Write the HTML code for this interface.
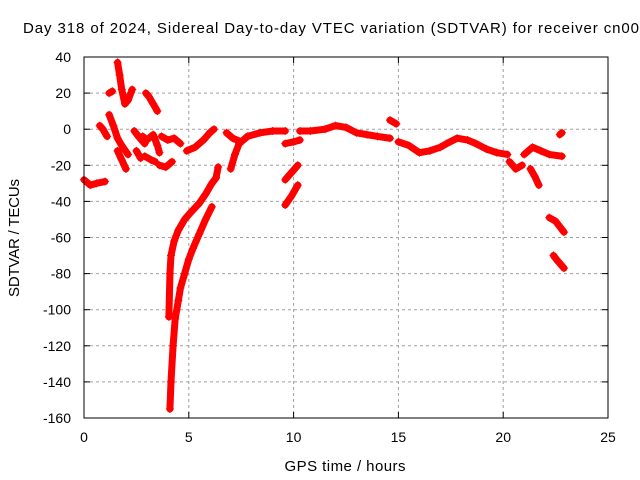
<!DOCTYPE html>
<html><head><meta charset="utf-8"><style>
body{margin:0;background:#fff;}
svg{display:block;font-family:"Liberation Sans",sans-serif;}
</style></head><body>
<svg id="chart" width="640" height="480">
<rect width="640" height="480" fill="#fff"/>
<text x="23" y="33" font-size="15" textLength="616" lengthAdjust="spacing">Day 318 of 2024, Sidereal Day-to-day VTEC variation (SDTVAR) for receiver cn00</text>
<text x="345" y="471" text-anchor="middle" font-size="15" textLength="121" lengthAdjust="spacing">GPS time / hours</text>
<text transform="translate(19,238) rotate(-90)" text-anchor="middle" font-size="15" textLength="118" lengthAdjust="spacing">SDTVAR / TECUs</text>
<g id="grid"></g><g id="marks"></g>
<rect x="84" y="57" width="524" height="361" fill="none" stroke="#000" stroke-width="1"/>
</svg>
<script>
const xTicks=[0,5,10,15,20,25];
const yTicks=[40,20,0,-20,-40,-60,-80,-100,-120,-140,-160];
// segments of [hour, value]
const segA=[[0,-28],[0.3,-31],[0.6,-30],[1.0,-29]];
const segB=[[0.75,2],[0.9,0],[1.1,-4]];
const segC=[[1.2,8],[1.4,2],[1.6,-5],[1.8,-9],[2.1,-14]];
const segC2=[[1.6,-12],[1.8,-17],[2.0,-22]];
const segD=[[1.6,37],[1.7,30],[1.8,22],[1.95,14],[2.1,16],[2.3,22]];
const segE=[[1.2,20],[1.35,21]];
const segF=[[2.95,20],[3.1,18],[3.3,14],[3.5,10]];
const segG=[[2.4,-1],[2.6,-4],[2.9,-8]];
const segH=[[2.5,-12],[2.7,-16]];
const segI=[[2.8,-4],[3.0,-6],[3.3,-3],[3.5,-9],[3.6,-13]];
const segJ=[[2.9,-15],[3.2,-17],[3.4,-18]];
const segK=[[3.6,-20],[3.9,-21],[4.2,-18]];
const segL=[[3.7,-4],[4.0,-6],[4.3,-5],[4.6,-8]];
const segM1=[[4.05,-104],[4.1,-80],[4.15,-70],[4.3,-62],[4.5,-56],[4.8,-50],[5.1,-46],[5.5,-41],[5.8,-36],[6.1,-30],[6.3,-27],[6.4,-21]];
const segM2=[[4.1,-155],[4.15,-140],[4.25,-120],[4.35,-105],[4.5,-95],[4.6,-88],[4.8,-80],[5.0,-72],[5.2,-66],[5.5,-58],[5.8,-50],[6.1,-43]];
const segN=[[4.9,-12],[5.3,-10],[5.7,-6],[6.0,-2],[6.2,0]];
const segO=[[7.0,-22],[7.2,-14],[7.4,-8],[7.8,-4],[8.4,-2],[9.0,-1],[9.6,-1]];
const segO2=[[6.8,-2],[7.1,-5],[7.5,-7]];
const segP=[[9.6,-42],[9.9,-37],[10.2,-31]];
const segP2=[[9.6,-28],[9.9,-24],[10.2,-20]];
const segQ=[[9.6,-8],[10.0,-7],[10.3,-6]];
const segR=[[10.3,-1],[10.8,-1],[11.5,0],[12.0,2],[12.5,1],[13.0,-2],[13.5,-3],[14.0,-4],[14.6,-5]];
const segS=[[14.6,5],[14.9,3]];
const segT=[[15.0,-7],[15.5,-9],[16.0,-13],[16.5,-12],[17.0,-10],[17.3,-8],[17.8,-5],[18.3,-6],[18.7,-8],[19.2,-11],[19.7,-13],[20.2,-14]];
const segU=[[20.3,-18],[20.6,-22],[20.9,-20]];
const segV=[[21.0,-14],[21.4,-10],[21.8,-12],[22.2,-14],[22.8,-15]];
const segW=[[21.3,-22],[21.5,-26],[21.7,-31]];
const segX=[[22.7,-3],[22.8,-2]];
const segY=[[22.2,-49],[22.5,-51],[22.9,-57]];
const segZ=[[22.4,-70],[22.6,-73],[22.9,-77]];
const segments=[segA,segB,segC,segC2,segD,segE,segF,segG,segH,segI,segJ,segK,segL,segM1,segM2,segN,segO,segO2,segP,segP2,segQ,segR,segS,segT,segU,segV,segW,segX,segY,segZ];

const NS="http://www.w3.org/2000/svg";
const X0=84,X1=608,Y0=57,Y1=418;
function xs(t){return X0+(t-0)/(25-0)*(X1-X0);}
function ys(v){return Y0+(40-v)/(40+160)*(Y1-Y0);}
const grid=document.getElementById('grid');
const marks=document.getElementById('marks');
function mk(tag,attrs,parent){const e=document.createElementNS(NS,tag);for(const k in attrs)e.setAttribute(k,attrs[k]);parent.appendChild(e);return e;}
xTicks.forEach(t=>{
  const x=xs(t);
  if(t>0&&t<25){const g=mk('line',{x1:x,x2:x,y1:Y0,y2:Y1,stroke:'#a0a0a0','stroke-dasharray':'3,3'},grid);
  
  }
  mk('line',{x1:x,x2:x,y1:Y1,y2:Y1-6,stroke:'#000'},grid);
  mk('line',{x1:x,x2:x,y1:Y0,y2:Y0+6,stroke:'#000'},grid);
  const l=mk('text',{x:x,y:Y1+24,'text-anchor':'middle','font-size':'14'},grid);l.textContent=t;
  
  
});
yTicks.forEach(v=>{
  const y=ys(v);
  if(v<40&&v>-160){const g=mk('line',{x1:X0,x2:X1,y1:y,y2:y,stroke:'#a0a0a0','stroke-dasharray':'3,3'},grid);
  
  }
  mk('line',{x1:X0,x2:X0+6,y1:y,y2:y,stroke:'#000'},grid);
  mk('line',{x1:X1,x2:X1-6,y1:y,y2:y,stroke:'#000'},grid);
  const l=mk('text',{x:X0-13,y:y+5,'text-anchor':'end','font-size':'14'},grid);l.textContent=v;
  
  
});
segments.forEach(seg=>{
  const p=mk('polyline',{points:seg.map(d=>xs(d[0])+','+ys(d[1])).join(' '),fill:'none',stroke:'#f00','stroke-width':'7','stroke-linejoin':'round','stroke-linecap':'round'},marks);
  
  
  seg.forEach(d=>{
    const x=xs(d[0]),y=ys(d[1]);
    const m=mk('path',{d:`M${x-4},${y}H${x+4}M${x},${y-4}V${y+4}`,stroke:'#f00','stroke-width':'1'},marks);
    
    
  });
});
</script>
</body></html>
